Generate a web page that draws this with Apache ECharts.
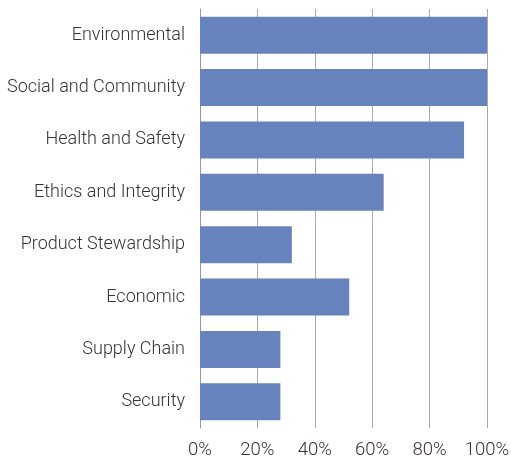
<!DOCTYPE html>
<html>
<head>
<meta charset="utf-8">
<script src="https://cdn.jsdelivr.net/npm/echarts@6/dist/echarts.min.js"></script>
<style>
  html, body { margin: 0; padding: 0; background: #fff; }
  #chart { width: 511px; height: 457px; }
</style>
</head>
<body>
<div id="chart"></div>
<script>
// Share of companies reporting on each topic (percent)
const categories = [
  'Environmental',
  'Social and Community',
  'Health and Safety',
  'Ethics and Integrity',
  'Product Stewardship',
  'Economic',
  'Supply Chain',
  'Security'
];
const values = [100, 100, 92, 64, 32, 52, 28, 28];
const xTicks = [0, 20, 40, 60, 80, 100];

const chart = echarts.init(document.getElementById('chart'));
const font = 'Roboto, "Liberation Sans", sans-serif';

chart.setOption({
  animation: false,
  grid: {
    left: 200, right: 24, top: 9, bottom: 29,
    containLabel: false,
    outerBoundsMode: 'none'
  },
  xAxis: {
    type: 'value',
    min: xTicks[0],
    max: xTicks[xTicks.length - 1],
    interval: xTicks[1] - xTicks[0],
    axisLine: { show: false },
    axisTick: { show: false },
    splitLine: { show: true, lineStyle: { color: '#aaaaaa', width: 1 } },
    axisLabel: {
      margin: 13,
      color: '#3a3232',
      fontFamily: font,
      fontSize: 18.5,
      fontWeight: 300,
      formatter: v => v + '%'
    }
  },
  yAxis: {
    type: 'category',
    data: categories,
    inverse: true,
    axisLine: { show: true, lineStyle: { color: '#999999', width: 1 } },
    axisTick: { show: false },
    axisLabel: {
      margin: 15,
      color: '#333333',
      fontFamily: font,
      fontSize: 18,
      fontWeight: 300
    }
  },
  series: [{
    type: 'bar',
    data: values,
    barWidth: '70.6%',
    itemStyle: { color: '#6783bd' }
  }]
});
</script>
</body>
</html>
